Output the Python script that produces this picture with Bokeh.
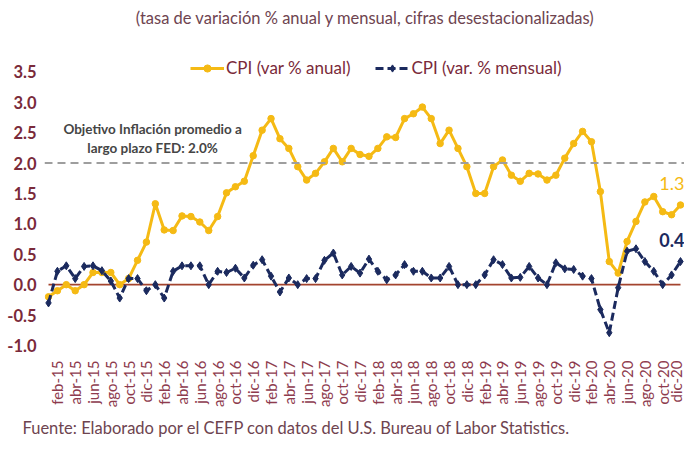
import math
from bokeh.plotting import figure
from bokeh.models import (Range1d, FixedTicker, Span, Legend, LegendItem, Title,
                          ColumnDataSource, NumeralTickFormatter)
from bokeh.core.properties import value
from bokeh.embed import file_html
from bokeh.resources import INLINE

# ---------------- data ----------------
meses = ["ene", "feb", "mar", "abr", "may", "jun", "jul", "ago", "sep", "oct", "nov", "dic"]
anios = ["15", "16", "17", "18", "19", "20"]
periodos = [f"{m}-{a}" for a in anios for m in meses]

cpi_anual = [
    -0.2, -0.1, 0.0, -0.1, 0.0, 0.2, 0.2, 0.2, 0.0, 0.1, 0.4, 0.7,
    1.33, 0.9, 0.89, 1.13, 1.12, 1.03, 0.89, 1.12, 1.51, 1.61, 1.7, 2.12,
    2.54, 2.73, 2.4, 2.24, 1.94, 1.72, 1.83, 2.02, 2.24, 2.02, 2.24, 2.14,
    2.11, 2.24, 2.43, 2.42, 2.73, 2.81, 2.92, 2.73, 2.32, 2.54, 2.24, 1.94,
    1.5, 1.5, 1.94, 2.05, 1.8, 1.7, 1.83, 1.82, 1.72, 1.8, 2.08, 2.32,
    2.52, 2.35, 1.53, 0.38, 0.19, 0.71, 1.04, 1.36, 1.45, 1.2, 1.15, 1.31,
]
cpi_mensual = [
    -0.3, 0.22, 0.31, 0.1, 0.3, 0.31, 0.23, 0.06, -0.22, 0.1, 0.1, -0.1,
    0.0, -0.22, 0.22, 0.31, 0.31, 0.31, 0.0, 0.22, 0.2, 0.27, 0.11, 0.32,
    0.41, 0.14, -0.12, 0.11, 0.0, 0.1, 0.1, 0.4, 0.52, 0.16, 0.3, 0.19,
    0.42, 0.22, 0.08, 0.16, 0.33, 0.22, 0.22, 0.11, 0.11, 0.3, 0.0, 0.0,
    0.0, 0.16, 0.41, 0.33, 0.11, 0.12, 0.3, 0.11, 0.0, 0.36, 0.26, 0.25,
    0.14, 0.1, -0.41, -0.79, -0.05, 0.55, 0.59, 0.38, 0.22, 0.0, 0.16, 0.38,
]
y_ticks = [-1.0, -0.5, 0.0, 0.5, 1.0, 1.5, 2.0, 2.5, 3.0, 3.5]
objetivo_fed = 2.0

titulo = "(tasa de variación % anual y mensual, cifras desestacionalizadas)"
fuente = "Fuente: Elaborado por el CEFP con datos del U.S. Bureau of Labor Statistics."
nota = ["Objetivo Inflación promedio a", "largo plazo FED: 2.0%"]
serie_anual = "CPI (var % anual)"
serie_mensual = "CPI (var. % mensual)"

# ---------------- styling ----------------
FONT = "Lato"
YELLOW = "#F5BA14"
NAVY = "#1B2A5E"
MAROON = "#7A2A3A"
TXT = "#6E4450"

idx = list(range(len(periodos)))
src = ColumnDataSource(dict(x=idx, anual=cpi_anual, mensual=cpi_mensual,
                            cero=[0.0] * len(idx)))

x_end = 71.45
p = figure(width=684, height=442, output_backend="svg", toolbar_location=None,
           x_range=Range1d(-0.45, x_end), y_range=Range1d(-1.066, 4.672),
           min_border_left=44, min_border_right=0, min_border_top=0,
           min_border_bottom=92)
p.outline_line_color = None
p.grid.visible = False
p.background_fill_color = "white"
p.border_fill_color = "white"

# reference lines
p.add_layout(Span(location=objetivo_fed, dimension="width", line_color="#9E9E9E",
                  line_width=2, line_dash="8 5"))
p.line("x", "cero", source=src, line_color="#A3442E", line_width=1.6)

# series
l1 = p.line("x", "anual", source=src, line_color=YELLOW, line_width=3)
s1 = p.scatter("x", "anual", source=src, marker="circle", size=6.5,
               fill_color=YELLOW, line_color=YELLOW)
l2 = p.line("x", "mensual", source=src, line_color=NAVY, line_width=3, line_dash="8 4")
s2 = p.scatter("x", "mensual", source=src, marker="diamond", size=8,
               fill_color=NAVY, line_color=NAVY)

# end labels
p.text(x=[x_end], y=[cpi_anual[-1] + 0.36], text=[f"{cpi_anual[-1]:.1f}"],
       text_align="right", text_baseline="middle", text_color=YELLOW,
       text_font=value(FONT), text_font_size="18px")
p.text(x=[x_end], y=[cpi_mensual[-1] + 0.36], text=[f"{cpi_mensual[-1]:.1f}"],
       text_align="right", text_baseline="middle", text_color=NAVY,
       text_font=value(FONT), text_font_size="18px", text_font_style="bold")

# annotation about FED target
p.text(x=[11.7, 11.7], y=[2.56, 2.25], text=nota, text_align="center",
       text_baseline="middle", text_color="#454545", text_font=value(FONT),
       text_font_size="13.5px", text_font_style="bold")

# title (inside the frame)
p.text(x=[35.6], y=[4.377], text=[titulo], text_align="center", text_baseline="middle",
       text_color=TXT, text_font=value(FONT), text_font_size="16.5px")

# legend
legend = Legend(items=[LegendItem(label=serie_anual, renderers=[l1, s1]),
                       LegendItem(label=serie_mensual, renderers=[l2, s2])],
                orientation="horizontal", location=(146, 271),
                label_text_font=FONT, label_text_font_size="17px",
                label_text_color=MAROON, glyph_width=34, glyph_height=18,
                label_standoff=2, spacing=25, padding=0, margin=0,
                border_line_alpha=0, background_fill_alpha=0)
p.add_layout(legend)

# y axis
p.yaxis.ticker = FixedTicker(ticks=y_ticks)
p.yaxis.formatter = NumeralTickFormatter(format="0.0")
p.yaxis.axis_line_color = None
p.yaxis.major_tick_line_color = None
p.yaxis.minor_tick_line_color = None
p.yaxis.major_label_standoff = 2
p.yaxis.major_label_text_font = FONT
p.yaxis.major_label_text_font_size = "16.5px"
p.yaxis.major_label_text_font_style = "bold"
p.yaxis.major_label_text_color = MAROON

# x axis
tick_pos = idx[1::2]
p.xaxis.ticker = FixedTicker(ticks=tick_pos)
p.xaxis.major_label_overrides = {i: periodos[i] for i in tick_pos}
p.xaxis.major_label_orientation = math.pi / 2
p.xaxis.axis_line_color = None
p.xaxis.major_tick_line_color = None
p.xaxis.minor_tick_line_color = None
p.xaxis.major_label_standoff = 5
p.xaxis.major_label_text_font = FONT
p.xaxis.major_label_text_font_size = "15px"
p.xaxis.major_label_text_color = "#8E3B4E"

# source note
p.add_layout(Title(text=fuente, align="left", text_font=FONT, text_font_size="16.5px",
                   text_font_style="normal", text_color=TXT, standoff=10, offset=-22),
             "below")

open("out.html", "w").write(file_html(p, INLINE))
